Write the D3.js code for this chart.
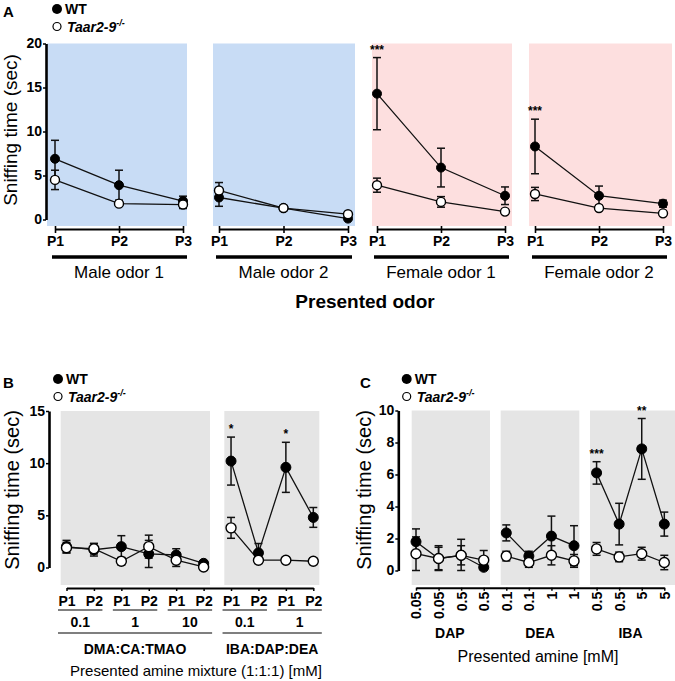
<!DOCTYPE html>
<html><head><meta charset="utf-8">
<script src="https://cdn.jsdelivr.net/npm/d3@7"></script>
<style>
body{margin:0;background:#fff;}
svg{display:block;font-family:"Liberation Sans",Arial,Helvetica,sans-serif;}
</style></head><body>
<svg id="chart" width="675" height="681"></svg>
<script>
// ---------- Panel A data ----------
const aGroups = ["Male odor 1", "Male odor 2", "Female odor 1", "Female odor 2"];
const aTicks = ["P1", "P2", "P3"];
const aYTicks = [0, 5, 10, 15, 20];
const aWT    = [6.9, 3.9, 2.1,   2.5, 1.3, 0.1,   14.3, 5.9, 2.7,   8.3, 2.7, 1.8];
const aWTerr = [2.1, 1.7, 0.55,  1.0, 0.2, 0.2,   4.1, 2.2, 1.0,    3.1, 1.1, 0.4];
const aKO    = [4.5, 1.8, 1.7,   3.3, 1.3, 0.6,   3.9, 2.0, 0.9,    2.9, 1.3, 0.7];
const aKOerr = [1.1, 0.2, 0.45,  0.9, 0.3, 0.1,   0.8, 0.6, 0.1,    0.75, 0.2, 0.1];
const aSig   = ["", "", "", "", "", "", "***", "", "", "***", "", ""];

// ---------- Panel B data ----------
const bTicks = ["P1", "P2", "P1", "P2", "P1", "P2", "P1", "P2", "P1", "P2"];
const bConc = ["0.1", "1", "10", "0.1", "1"];
const bMix = ["DMA:CA:TMAO", "IBA:DAP:DEA"];
const bYTicks = [0, 5, 10, 15];
const bWT    = [2.0, 1.7, 2.0, 1.3, 1.2, 0.4, 10.2, 1.4, 9.6, 4.8];
const bWTerr = [0.6, 0.6, 1.05, 1.3, 0.6, 0.2, 2.3, 0.9, 2.4, 0.95];
const bKO    = [1.9, 1.8, 0.6, 2.0, 0.7, 0.05, 3.8, 0.7, 0.7, 0.6];
const bKOerr = [0.5, 0.5, 0.35, 1.1, 0.6, 0.1, 1.0, 0.3, 0.3, 0.3];
const bSig   = ["", "", "", "", "", "", "*", "", "*", ""];

// ---------- Panel C data ----------
const cConc = ["0.05", "0.05", "0.5", "0.5", "0.1", "0.1", "1", "1", "0.5", "0.5", "5", "5"];
const cAmines = ["DAP", "DEA", "IBA"];
const cYTicks = [0, 2, 4, 6, 8, 10];
const cWT    = [1.8, 0.75, 0.95, 0.2, 2.35, 0.9, 2.15, 1.55, 6.1, 2.9, 7.6, 2.9];
const cWTerr = [0.8, 0.8, 1.0, 0.15, 0.5, 0.3, 1.25, 1.25, 0.7, 1.3, 1.9, 0.75];
const cKO    = [1.05, 0.75, 0.95, 0.65, 0.9, 0.5, 0.95, 0.6, 1.35, 0.85, 1.05, 0.5];
const cKOerr = [1.05, 0.7, 0.6, 0.6, 0.3, 0.3, 0.6, 0.4, 0.4, 0.3, 0.4, 0.45];
const cSig   = ["", "", "", "", "", "", "", "", "***", "", "**", ""];

// ---------- drawing ----------
const svg = d3.select("#chart");
const BLUE = "#c8dcf5", PINK = "#fddfdf", GRAY = "#e5e5e5";

function series(g, xs, y, segs, wt, wtE, ko, koE, sig, r) {
  const line = d3.line().x(d => d[0]).y(d => d[1]);
  [ko, wt].forEach(vals => {
    segs.forEach(([s, e]) => {
      const pts = d3.range(s, e + 1).map(i => [xs[i], y(vals[i])]);
      g.append("path").attr("d", line(pts)).attr("fill", "none")
        .attr("stroke", "#111").attr("stroke-width", 1.3);
    });
  });
  const cap = 4;
  [[wt, wtE], [ko, koE]].forEach(([v, e]) => {
    v.forEach((val, i) => {
      const x = xs[i], y1 = y(val + e[i]), y2 = y(Math.max(0, val - e[i]));
      g.append("line").attr("x1", x).attr("x2", x).attr("y1", y1).attr("y2", y2)
        .attr("stroke", "#111").attr("stroke-width", 1.5);
      [y1, y2].forEach(yy => g.append("line").attr("x1", x - cap).attr("x2", x + cap)
        .attr("y1", yy).attr("y2", yy).attr("stroke", "#111").attr("stroke-width", 1.5));
    });
  });
  wt.forEach((val, i) => g.append("circle").attr("cx", xs[i]).attr("cy", y(val)).attr("r", r)
    .attr("fill", "#000").attr("stroke", "#000").attr("stroke-width", 1));
  ko.forEach((val, i) => g.append("circle").attr("cx", xs[i]).attr("cy", y(val)).attr("r", r)
    .attr("fill", "#fff").attr("stroke", "#000").attr("stroke-width", 1.4));
  sig.forEach((s, i) => {
    if (!s) return;
    g.append("text").attr("x", xs[i]).attr("y", y(wt[i] + wtE[i]) - 4)
      .attr("text-anchor", "middle").attr("font-size", 12).attr("font-weight", "bold").text(s);
  });
}

function yAxis(x, y, ticks) {
  const ax = svg.append("g").attr("transform", `translate(${x},0)`)
    .call(d3.axisLeft(y).tickValues(ticks).tickSize(3).tickSizeOuter(0).tickPadding(1));
  ax.select(".domain").attr("stroke-width", 2.6).attr("stroke", "#000");
  ax.selectAll(".tick line").attr("stroke-width", 1.5);
  ax.selectAll("text").attr("font-size", 14).attr("font-weight", "bold")
    .attr("font-family", "Liberation Sans, Arial, sans-serif").attr("fill", "#000");
  return ax;
}

function yTitle(x, yc, fs) {
  svg.append("text").attr("transform", `translate(${x},${yc}) rotate(-90)`)
    .attr("text-anchor", "middle").attr("font-size", fs).text("Sniffing time (sec)");
}

function legend(px, py, label, lx, ly) {
  svg.append("text").attr("x", px).attr("y", py).attr("font-size", 15).attr("font-weight", "bold").text(label);
  svg.append("circle").attr("cx", lx).attr("cy", ly).attr("r", 5).attr("fill", "#000");
  svg.append("text").attr("x", lx + 8).attr("y", ly + 5).attr("font-size", 14).attr("font-weight", "bold").text("WT");
  svg.append("circle").attr("cx", lx).attr("cy", ly + 17.5).attr("r", 4).attr("fill", "#fff")
    .attr("stroke", "#000").attr("stroke-width", 1.2);
  const t = svg.append("text").attr("x", lx + 10).attr("y", ly + 22.5).attr("font-size", 14)
    .attr("font-weight", "bold").attr("font-style", "italic");
  t.append("tspan").text("Taar2-9");
  t.append("tspan").attr("font-size", 9).attr("dy", -6).text("-/-");
}

// ===== Panel A =====
const yA = d3.scaleLinear().domain([0, 20]).range([219.5, 43.5]);
const aRanges = [[55, 183], [219, 348], [377, 505], [535, 663]];
const aBg = [[47, 187], [213, 355], [372, 512], [529, 672]];
const aColors = [BLUE, BLUE, PINK, PINK];
const aX = aRanges.map(r => d3.scalePoint().domain(aTicks).range(r));
aBg.forEach((b, i) => svg.append("rect").attr("x", b[0]).attr("y", 43.5).attr("width", b[1] - b[0])
  .attr("height", 226 - 43.5).attr("fill", aColors[i]));
yAxis(46, yA, aYTicks);
yTitle(17, 130, 19);
legend(3, 17, "A", 57, 9);
const aXs = [];
aGroups.forEach((grp, gi) => {
  aTicks.forEach(t => aXs.push(aX[gi](t)));
  const ax = svg.append("g").attr("transform", "translate(0,229)")
    .call(d3.axisBottom(aX[gi]).tickSize(4).tickSizeOuter(0).tickPadding(3));
  ax.select(".domain").attr("stroke-width", 2).attr("stroke", "#000");
  ax.selectAll(".tick line").attr("stroke-width", 1.6).attr("y1", -3);
  ax.selectAll("text").attr("font-size", 14).attr("font-weight", "bold")
    .attr("font-family", "Liberation Sans, Arial, sans-serif").attr("fill", "#000");
  const r = aRanges[gi];
  svg.append("line").attr("x1", r[0] - 3).attr("x2", r[1] + 4).attr("y1", 257).attr("y2", 257)
    .attr("stroke", "#000").attr("stroke-width", 3.5);
  svg.append("text").attr("x", (r[0] + r[1]) / 2).attr("y", 278).attr("text-anchor", "middle")
    .attr("font-size", 17).text(grp);
});
svg.append("text").attr("x", 365).attr("y", 308).attr("text-anchor", "middle")
  .attr("font-size", 19).attr("font-weight", "bold").text("Presented odor");
series(svg.append("g"), aXs, yA, [[0, 2], [3, 5], [6, 8], [9, 11]], aWT, aWTerr, aKO, aKOerr, aSig, 4.5);

// ===== Panel B =====
const yB = d3.scaleLinear().domain([0, 15]).range([567.5, 411]);
const bX = d3.scalePoint().domain(d3.range(bTicks.length)).range([66.5, 313.3]);
svg.append("rect").attr("x", 60.7).attr("y", 411).attr("width", 210 - 60.7).attr("height", 585 - 411).attr("fill", GRAY);
svg.append("rect").attr("x", 224.3).attr("y", 411).attr("width", 319.3 - 224.3).attr("height", 585 - 411).attr("fill", GRAY);
yAxis(49, yB, bYTicks);
yTitle(19, 490, 20);
legend(3, 388, "B", 58, 379);
{
  const ax = svg.append("g").attr("transform", "translate(0,588)")
    .call(d3.axisBottom(bX).tickSize(3).tickSizeOuter(0).tickPadding(5).tickFormat(i => bTicks[i]));
  ax.select(".domain").attr("stroke-width", 2).attr("stroke", "#000");
  ax.selectAll(".tick line").attr("stroke-width", 1.5);
  ax.selectAll("text").attr("font-size", 14).attr("font-weight", "bold")
    .attr("font-family", "Liberation Sans, Arial, sans-serif").attr("fill", "#000");
  bConc.forEach((c, k) => {
    const x1 = bX(2 * k) - 8.5, x2 = bX(2 * k + 1) + 8.5;
    svg.append("line").attr("x1", x1).attr("x2", x2).attr("y1", 610).attr("y2", 610)
      .attr("stroke", "#000").attr("stroke-width", 1.2);
    svg.append("text").attr("x", (x1 + x2) / 2).attr("y", 627).attr("text-anchor", "middle")
      .attr("font-size", 14).attr("font-weight", "bold").text(c);
  });
  bMix.forEach((m, k) => {
    const s = k === 0 ? 0 : 6, e = k === 0 ? 5 : 9;
    const x1 = bX(s) - 8.5, x2 = bX(e) + 8.5;
    svg.append("line").attr("x1", x1).attr("x2", x2).attr("y1", 633).attr("y2", 633)
      .attr("stroke", "#000").attr("stroke-width", 1.2);
    svg.append("text").attr("x", (x1 + x2) / 2).attr("y", 654).attr("text-anchor", "middle")
      .attr("font-size", 14).attr("font-weight", "bold").text(m);
  });
  svg.append("text").attr("x", 196).attr("y", 676).attr("text-anchor", "middle")
    .attr("font-size", 15).text("Presented amine mixture (1:1:1) [mM]");
}
series(svg.append("g"), d3.range(bTicks.length).map(i => bX(i)), yB, [[0, 5], [6, 9]],
  bWT, bWTerr, bKO, bKOerr, bSig, 5);

// ===== Panel C =====
const yC = d3.scaleLinear().domain([0, 10]).range([570.5, 410.5]);
const cX = d3.scalePoint().domain(d3.range(cConc.length)).range([416, 664.3]);
[[411.7, 490], [500.7, 579.3], [590, 675]].forEach(b => svg.append("rect").attr("x", b[0]).attr("y", 410.5)
  .attr("width", b[1] - b[0]).attr("height", 585 - 410.5).attr("fill", GRAY));
yAxis(398.3, yC, cYTicks);
yTitle(371, 490, 20);
legend(360, 388, "C", 406.7, 379);
{
  const ax = svg.append("g").attr("transform", "translate(0,587.7)")
    .call(d3.axisBottom(cX).tickSize(3).tickSizeOuter(0).tickFormat(i => cConc[i]));
  ax.select(".domain").attr("stroke-width", 2).attr("stroke", "#000");
  ax.selectAll(".tick line").attr("stroke-width", 1.5);
  ax.selectAll("text").attr("font-size", 14).attr("font-weight", "bold")
    .attr("font-family", "Liberation Sans, Arial, sans-serif").attr("fill", "#000")
    .attr("transform", "rotate(-90)").attr("x", -4).attr("y", 0).attr("dy", "0.35em")
    .attr("text-anchor", "end");
  cAmines.forEach((a, k) => {
    const xm = (cX(4 * k) + cX(4 * k + 3)) / 2;
    svg.append("text").attr("x", xm).attr("y", 638).attr("text-anchor", "middle")
      .attr("font-size", 14).attr("font-weight", "bold").text(a);
  });
  svg.append("text").attr("x", 538).attr("y", 662).attr("text-anchor", "middle")
    .attr("font-size", 16).text("Presented amine [mM]");
}
series(svg.append("g"), d3.range(cConc.length).map(i => cX(i)), yC, [[0, 3], [4, 7], [8, 11]],
  cWT, cWTerr, cKO, cKOerr, cSig, 5);
</script>
</body></html>
